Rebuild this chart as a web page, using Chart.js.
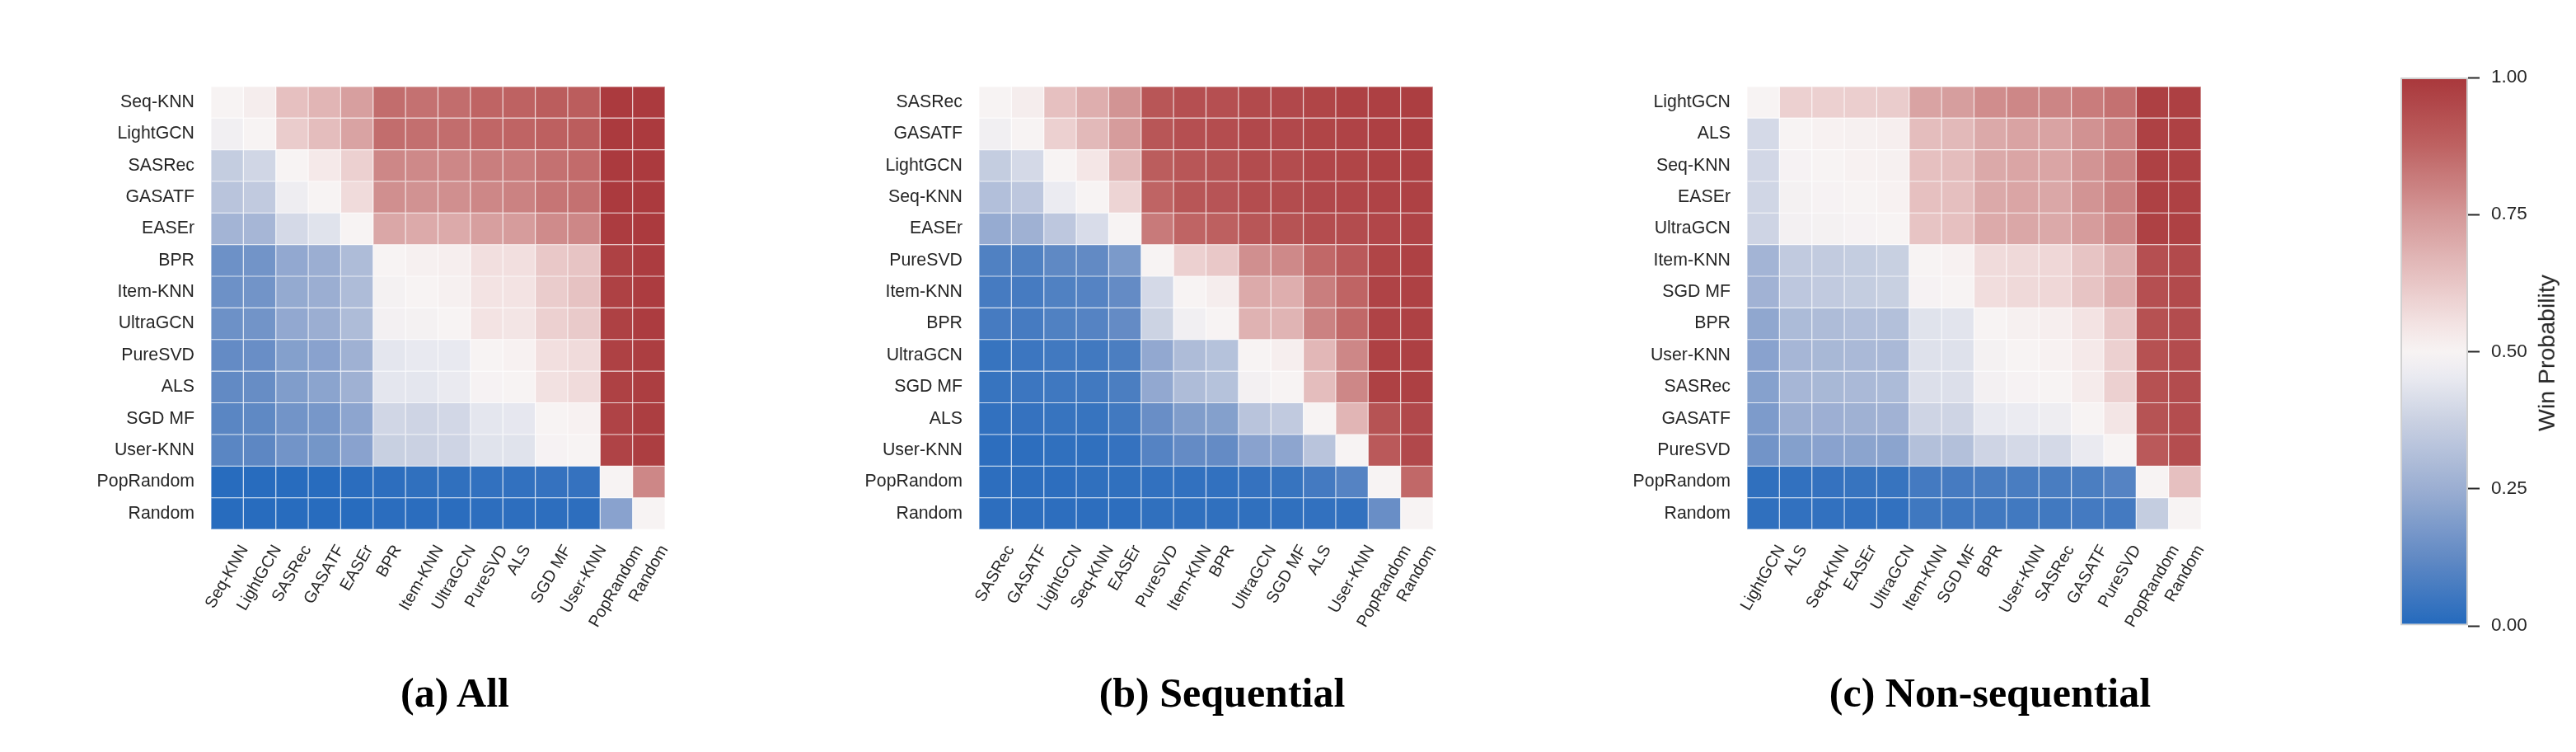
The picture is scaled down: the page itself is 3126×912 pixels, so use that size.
<!DOCTYPE html>
<html>
<head>
<meta charset="utf-8">
<script src="https://cdn.jsdelivr.net/npm/chart.js@4.4.1/dist/chart.umd.min.js"></script>
<style>
html, body { margin: 0; padding: 0; background: #ffffff; }
#page { position: relative; width: 3126px; height: 912px; overflow: hidden; background: #ffffff; }
canvas { position: absolute; }
.sub { position: absolute; font-family: 'Liberation Serif', 'Times New Roman', serif; font-weight: bold; font-size: 50px; line-height: 50px; color: #000; white-space: nowrap; transform: translateX(-50%); }
.cblabel { position: absolute; font-family: 'Liberation Sans', Arial, sans-serif; font-size: 28.5px; line-height: 1; color: #262626; white-space: nowrap; transform: translate(-50%, -50%) rotate(-90deg); }
</style>
</head>
<body>
<div id="page">
  <canvas id="hmAll" width="781" height="722" style="left:56px; top:80px;"></canvas>
  <canvas id="hmSeq" width="781" height="722" style="left:988px; top:80px;"></canvas>
  <canvas id="hmNon" width="781" height="722" style="left:1920px; top:80px;"></canvas>
  <canvas id="cbar" width="246" height="740" style="left:2880px; top:60px;"></canvas>
  <div class="sub" style="left:552px; top:815px;">(a) All</div>
  <div class="sub" style="left:1483px; top:815px;">(b) Sequential</div>
  <div class="sub" style="left:2415px; top:815px;">(c) Non-sequential</div>
  <div class="cblabel" style="left:3090px; top:428px;">Win Probability</div>
</div>
<script>
// ---------------- DATA ----------------
const labelsAll = ["Seq-KNN","LightGCN","SASRec","GASATF","EASEr","BPR","Item-KNN","UltraGCN","PureSVD","ALS","SGD MF","User-KNN","PopRandom","Random"];
const labelsSeq = ["SASRec","GASATF","LightGCN","Seq-KNN","EASEr","PureSVD","Item-KNN","BPR","UltraGCN","SGD MF","ALS","User-KNN","PopRandom","Random"];
const labelsNonSeq = ["LightGCN","ALS","Seq-KNN","EASEr","UltraGCN","Item-KNN","SGD MF","BPR","User-KNN","SASRec","GASATF","PureSVD","PopRandom","Random"];

// win probability of row model vs column model
const winAll = [
  [0.50,0.52,0.64,0.67,0.73,0.85,0.84,0.85,0.87,0.875,0.89,0.89,0.99,0.99],
  [0.48,0.50,0.61,0.65,0.72,0.85,0.845,0.85,0.865,0.87,0.88,0.89,0.99,0.99],
  [0.36,0.39,0.50,0.53,0.60,0.79,0.785,0.79,0.81,0.815,0.84,0.855,0.99,0.99],
  [0.33,0.35,0.47,0.50,0.57,0.77,0.765,0.77,0.79,0.80,0.83,0.84,0.99,0.99],
  [0.27,0.28,0.40,0.43,0.50,0.71,0.70,0.70,0.73,0.74,0.78,0.79,0.985,0.99],
  [0.15,0.16,0.23,0.25,0.30,0.50,0.51,0.515,0.56,0.56,0.62,0.63,0.97,0.985],
  [0.15,0.16,0.235,0.25,0.30,0.49,0.50,0.51,0.55,0.55,0.61,0.635,0.97,0.985],
  [0.15,0.16,0.23,0.25,0.30,0.485,0.49,0.50,0.55,0.545,0.60,0.615,0.97,0.985],
  [0.13,0.14,0.20,0.21,0.26,0.44,0.45,0.45,0.50,0.505,0.56,0.57,0.97,0.98],
  [0.125,0.135,0.19,0.215,0.26,0.44,0.44,0.455,0.495,0.50,0.555,0.57,0.97,0.98],
  [0.11,0.12,0.16,0.17,0.22,0.39,0.385,0.395,0.44,0.445,0.50,0.505,0.965,0.98],
  [0.11,0.115,0.16,0.165,0.21,0.37,0.375,0.385,0.43,0.43,0.495,0.50,0.965,0.98],
  [0.01,0.01,0.01,0.01,0.015,0.02,0.025,0.025,0.03,0.03,0.035,0.035,0.50,0.79],
  [0.01,0.01,0.01,0.01,0.01,0.015,0.015,0.015,0.02,0.02,0.02,0.02,0.21,0.50]
];

const winSeq = [
  [0.50,0.52,0.64,0.69,0.76,0.91,0.93,0.93,0.945,0.95,0.96,0.97,0.975,0.98],
  [0.48,0.50,0.60,0.66,0.74,0.91,0.93,0.935,0.95,0.95,0.96,0.965,0.975,0.98],
  [0.36,0.40,0.50,0.54,0.66,0.89,0.91,0.92,0.94,0.94,0.955,0.96,0.97,0.975],
  [0.31,0.34,0.46,0.50,0.59,0.87,0.91,0.915,0.935,0.94,0.95,0.955,0.965,0.97],
  [0.24,0.26,0.34,0.41,0.50,0.82,0.87,0.88,0.91,0.92,0.935,0.94,0.955,0.965],
  [0.09,0.09,0.12,0.125,0.18,0.50,0.60,0.62,0.77,0.785,0.86,0.90,0.96,0.97],
  [0.07,0.07,0.09,0.10,0.13,0.40,0.50,0.52,0.70,0.69,0.81,0.87,0.965,0.97],
  [0.07,0.07,0.09,0.10,0.13,0.38,0.48,0.50,0.68,0.675,0.80,0.86,0.965,0.97],
  [0.04,0.05,0.06,0.06,0.08,0.23,0.30,0.32,0.50,0.515,0.665,0.79,0.97,0.975],
  [0.04,0.05,0.055,0.06,0.08,0.23,0.30,0.32,0.485,0.50,0.65,0.79,0.97,0.975],
  [0.03,0.035,0.04,0.04,0.06,0.14,0.19,0.20,0.33,0.35,0.50,0.67,0.92,0.95],
  [0.02,0.02,0.025,0.025,0.035,0.10,0.13,0.13,0.21,0.22,0.33,0.50,0.90,0.95],
  [0.02,0.02,0.02,0.025,0.025,0.03,0.03,0.03,0.035,0.04,0.065,0.10,0.50,0.86],
  [0.02,0.02,0.02,0.02,0.02,0.025,0.025,0.025,0.025,0.025,0.03,0.03,0.14,0.50]
];

const winNonSeq = [
  [0.50,0.60,0.60,0.605,0.61,0.72,0.735,0.775,0.79,0.795,0.815,0.84,0.975,0.975],
  [0.40,0.50,0.505,0.51,0.515,0.65,0.66,0.705,0.72,0.72,0.765,0.80,0.97,0.97],
  [0.395,0.495,0.50,0.505,0.51,0.64,0.65,0.705,0.715,0.715,0.76,0.80,0.97,0.97],
  [0.39,0.49,0.495,0.50,0.505,0.64,0.645,0.705,0.715,0.71,0.76,0.80,0.97,0.97],
  [0.385,0.485,0.49,0.495,0.50,0.63,0.64,0.70,0.71,0.705,0.74,0.785,0.97,0.97],
  [0.27,0.35,0.355,0.36,0.37,0.50,0.505,0.57,0.575,0.58,0.63,0.685,0.93,0.945],
  [0.265,0.34,0.35,0.36,0.37,0.495,0.50,0.565,0.575,0.58,0.63,0.69,0.93,0.945],
  [0.225,0.295,0.30,0.31,0.315,0.43,0.435,0.50,0.51,0.515,0.55,0.62,0.925,0.94],
  [0.21,0.28,0.285,0.29,0.29,0.425,0.425,0.49,0.50,0.505,0.53,0.60,0.925,0.94],
  [0.205,0.28,0.285,0.29,0.295,0.42,0.42,0.485,0.495,0.50,0.525,0.60,0.925,0.94],
  [0.185,0.25,0.255,0.26,0.265,0.385,0.385,0.45,0.46,0.47,0.50,0.545,0.92,0.935],
  [0.16,0.20,0.21,0.215,0.215,0.315,0.315,0.385,0.40,0.40,0.455,0.50,0.90,0.935],
  [0.025,0.03,0.035,0.04,0.04,0.065,0.07,0.075,0.075,0.075,0.08,0.10,0.50,0.64],
  [0.025,0.03,0.03,0.03,0.03,0.055,0.055,0.06,0.06,0.06,0.065,0.065,0.36,0.50]
];

const colorbarTicks = [0, 0.25, 0.5, 0.75, 1];

// ---------------- COLOR MAP (vlag-like) ----------------
const CMAP = [
  [0.000, [35,105,189]],
  [0.125, [98,138,196]],
  [0.250, [155,174,210]],
  [0.375, [202,209,226]],
  [0.450, [232,233,240]],
  [0.500, [247,243,243]],
  [0.550, [243,227,227]],
  [0.625, [232,198,198]],
  [0.750, [212,152,152]],
  [0.875, [190,98,98]],
  [1.000, [169,55,59]]
];
function cmap(v) {
  v = Math.max(0, Math.min(1, v));
  for (let i = 1; i < CMAP.length; i++) {
    if (v <= CMAP[i][0]) {
      const [t0, c0] = CMAP[i-1], [t1, c1] = CMAP[i];
      const t = (v - t0) / (t1 - t0);
      return c0.map((c, k) => c + (c1[k] - c) * t);
    }
  }
  return CMAP[CMAP.length-1][1];
}
const rgb = c => `rgb(${Math.round(c[0])},${Math.round(c[1])},${Math.round(c[2])})`;
const mixWhite = (c, t) => c.map(x => x + (255 - x) * t);

Chart.defaults.font.family = "'Liberation Sans', Arial, Helvetica, sans-serif";
Chart.defaults.color = '#262626';

// Align rotated x tick labels the matplotlib way (bounding box centred under the tick)
const X_LABEL_DROP = 21;
const mplXLabels = {
  id: 'mplXLabels',
  beforeDraw(chart) {
    const sc = chart.scales.x;
    if (!sc || typeof sc.getLabelItems !== 'function') return;
    const items = sc.getLabelItems();
    if (!items || items.__mpl) return;
    const ctx = chart.ctx;
    items.forEach((it, i) => {
      ctx.save();
      ctx.font = it.font.string;
      const w = ctx.measureText(String(it.label)).width;
      ctx.restore();
      const px = sc.getPixelForTick(i);
      it.options.translation = [px + w / 4, sc.top + X_LABEL_DROP];
      it.options.textAlign = 'right';
      it.options.textBaseline = 'middle';
      it.textOffset = 0;
    });
    items.__mpl = true;
  }
};

function makeHeatmap(id, labels, matrix) {
  const datasets = matrix.map((row, r) => ({
    label: labels[r],
    data: row.map(() => 1),
    backgroundColor: row.map(v => rgb(cmap(v))),
    borderColor: row.map(v => rgb(mixWhite(cmap(v), 0.5))),
    borderWidth: 0.6,
    borderSkipped: false,
    inflateAmount: 0,
    barPercentage: 1,
    categoryPercentage: 1
  }));
  return new Chart(document.getElementById(id), {
    type: 'bar',
    data: { labels: labels, datasets: datasets },
    options: {
      responsive: false,
      animation: false,
      devicePixelRatio: 1,
      events: [],
      layout: { padding: { top: 12, right: 30, left: 0, bottom: 0 } },
      plugins: { legend: { display: false }, tooltip: { enabled: false }, title: { display: false } },
      scales: {
        x: {
          type: 'category',
          stacked: true,
          offset: true,
          grid: { display: false },
          border: { display: false },
          ticks: { autoSkip: false, minRotation: 60, maxRotation: 60, font: { size: 20 }, color: '#262626', padding: 0 },
          afterFit(s) { s.height = 160; }
        },
        y: {
          type: 'linear',
          stacked: true,
          reverse: true,
          min: 0,
          max: labels.length,
          grid: { display: false },
          border: { display: false },
          afterBuildTicks(s) { s.ticks = labels.map((_, i) => ({ value: i + 0.5 })); },
          ticks: { autoSkip: false, font: { size: 21.3 }, color: '#262626', padding: 12, callback: (v, i) => labels[i] },
          afterFit(s) { s.width = 200; }
        }
      }
    },
    plugins: [mplXLabels]
  });
}

makeHeatmap('hmAll', labelsAll, winAll);
makeHeatmap('hmSeq', labelsSeq, winSeq);
makeHeatmap('hmNon', labelsNonSeq, winNonSeq);

// ---------------- COLORBAR ----------------
function cbGradient(chart) {
  const a = chart.chartArea;
  if (!a) return rgb(cmap(0.5));
  const g = chart.ctx.createLinearGradient(0, a.bottom, 0, a.top);
  for (let i = 0; i <= 40; i++) {
    const t = i / 40;
    g.addColorStop(t, rgb(cmap(t)));
  }
  return g;
}
new Chart(document.getElementById('cbar'), {
  type: 'bar',
  data: {
    labels: ['Win Probability'],
    datasets: [{
      data: [1],
      backgroundColor: ctx => cbGradient(ctx.chart),
      borderColor: '#d0d0d0',
      borderWidth: 2,
      borderSkipped: false,
      inflateAmount: 0,
      barPercentage: 1,
      categoryPercentage: 1
    }]
  },
  options: {
    responsive: false,
    animation: false,
    devicePixelRatio: 1,
    events: [],
    layout: { padding: { top: 34, left: 33, bottom: 41, right: 0 } },
    plugins: { legend: { display: false }, tooltip: { enabled: false } },
    scales: {
      x: { display: false },
      y: {
        position: 'right',
        min: 0,
        max: 1,
        afterBuildTicks(s) { s.ticks = colorbarTicks.map(v => ({ value: v })); },
        ticks: { callback: v => Number(v).toFixed(2), font: { size: 22.5 }, color: '#262626', padding: 14 },
        grid: { display: true, drawOnChartArea: false, drawTicks: true, tickLength: 14, tickWidth: 2, tickColor: '#262626' },
        border: { display: false },
        afterFit(s) { s.width = 131; }
      }
    }
  }
});
</script>
</body>
</html>
